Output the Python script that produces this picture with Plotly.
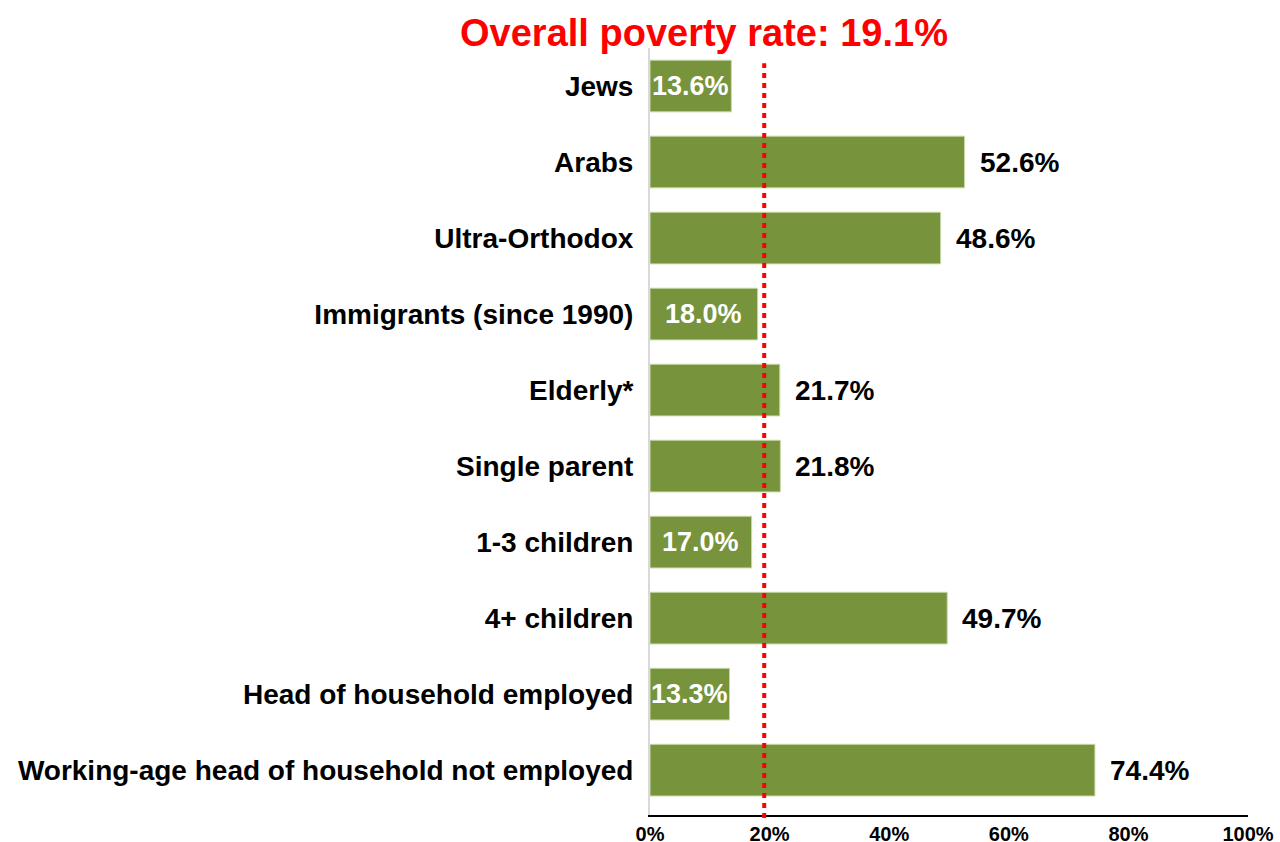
import plotly.graph_objects as go

categories = ["Jews", "Arabs", "Ultra-Orthodox", "Immigrants (since 1990)", "Elderly*",
              "Single parent", "1-3 children", "4+ children", "Head of household employed",
              "Working-age head of household not employed"]
values = [13.6, 52.6, 48.6, 18.0, 21.7, 21.8, 17.0, 49.7, 13.3, 74.4]
overall_rate = 19.1
title_text = "Overall poverty rate: 19.1%"
x_ticks = [0, 20, 40, 60, 80, 100]

FONT = "Liberation Sans, Arial, sans-serif"
BAR = "#77933C"

fig = go.Figure()
fig.add_trace(go.Bar(
    x=values, y=categories, orientation="h",
    marker=dict(color=BAR, line=dict(color="#c9d9a8", width=1)),
    width=0.68, hoverinfo="skip",
))

annotations = []
for c, v in zip(categories, values):
    if v < overall_rate:
        annotations.append(dict(x=v / 2, y=c, xref="x", yref="y", text=f"{v:.1f}%",
                                showarrow=False, xanchor="center", yanchor="middle",
                                font=dict(family=FONT, size=27, color="white", weight="bold")))
    else:
        annotations.append(dict(x=v, y=c, xref="x", yref="y", text=f"{v:.1f}%",
                                showarrow=False, xanchor="left", yanchor="middle", xshift=13,
                                font=dict(family=FONT, size=28, color="black", weight="bold")))

fig.add_shape(type="line", xref="x", yref="paper", x0=overall_rate, x1=overall_rate,
              y0=-0.004, y1=0.98, line=dict(color="#ff0000", width=4, dash="5px,5px"))

fig.update_layout(
    width=1280, height=842,
    margin=dict(l=650, r=32, t=48, b=27, autoexpand=False),
    paper_bgcolor="white", plot_bgcolor="white",
    showlegend=False,
    title=dict(text=title_text, x=704 / 1280, xanchor="center", y=1 - 33 / 842, yanchor="middle",
               font=dict(family=FONT, size=38, color="#ff0000", weight="bold")),
    annotations=annotations,
    xaxis=dict(range=[0, 100], tickvals=x_ticks, ticktext=[f"{t}%" for t in x_ticks],
               showgrid=False, zeroline=False, showline=True, linecolor="black", linewidth=2,
               ticks="", ticklabelstandoff=0, automargin=False,
               tickfont=dict(family=FONT, size=20, color="black", weight="bold")),
    yaxis=dict(type="category", categoryorder="array", categoryarray=categories,
               range=[9.59, -0.5], showgrid=False, zeroline=False, showline=True,
               linecolor="#d9d9d9", linewidth=2, ticks="", ticklabelstandoff=9, automargin=False,
               tickfont=dict(family=FONT, size=28, color="black", weight="bold")),
)

fig.write_html("out.html")
